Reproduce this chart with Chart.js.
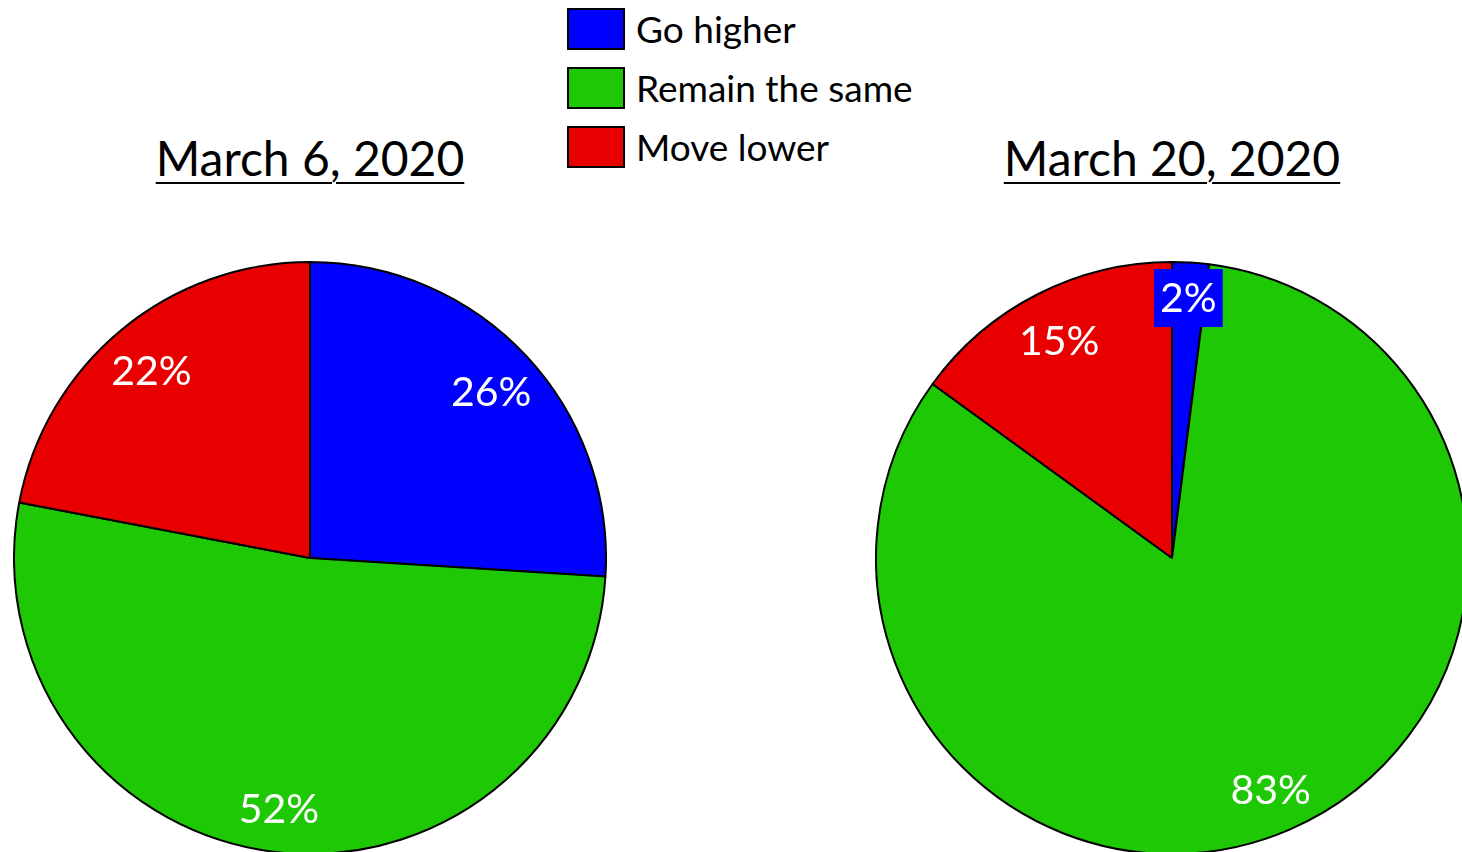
<!DOCTYPE html>
<html>
<head>
<meta charset="utf-8">
<script src="https://cdn.jsdelivr.net/npm/chart.js@4/dist/chart.umd.min.js"></script>
<style>
    html, body { margin: 0; padding: 0; background: #fff; overflow: hidden; width: 1462px; height: 852px; }
    body { position: relative; font-family: Lato, "Open Sans", sans-serif; }
    .title { position: absolute; top: 129px; font-size: 48px; text-decoration: underline; text-decoration-thickness: 2px; text-underline-offset: 6px; transform: translateX(-50%); white-space: nowrap; color: #000; }
    #legend { position: absolute; left: 567px; top: -1px; }
    .legend-row { display: flex; align-items: center; height: 59px; }
    .legend-box { width: 58px; height: 42px; border: 2px solid #000; box-sizing: border-box; margin-right: 11px; }
    .legend-text { font-size: 37px; color: #000; white-space: nowrap; }
    canvas { position: absolute; }
</style>
</head>
<body>
<div class="title" style="left:310px">March 6, 2020</div>
<div class="title" style="left:1172px">March 20, 2020</div>
<div id="legend"></div>
<canvas id="pie-Chart-March6" width="594" height="594" style="left:13px; top:261px"></canvas>
<canvas id="pie-Chart-March20" width="594" height="594" style="left:875px; top:261px"></canvas>
<script>
// Categories and colours
const categories = ['Go higher', 'Remain the same', 'Move lower'];
const sliceColors = ['#0000ff', '#1ec805', '#e80000'];

// Survey shares (percent)
const march6Values = [26, 52, 22];
const march20Values = [2, 83, 15];

document.addEventListener('DOMContentLoaded', function () {
    // Build the legend from the categories
    const legend = document.getElementById('legend');
    categories.forEach(function (name, i) {
        const row = document.createElement('div');
        row.className = 'legend-row';
        const box = document.createElement('div');
        box.className = 'legend-box';
        box.style.background = sliceColors[i];
        const text = document.createElement('div');
        text.className = 'legend-text';
        text.textContent = name;
        row.appendChild(box);
        row.appendChild(text);
        legend.appendChild(row);
    });

    // Plugin that writes the percentage inside each slice
    const sliceLabels = {
        id: 'sliceLabels',
        afterDatasetsDraw: function (chart) {
            const ctx = chart.ctx;
            const meta = chart.getDatasetMeta(0);
            const values = chart.data.datasets[0].data;
            ctx.save();
            ctx.font = '41px Lato, "Open Sans", sans-serif';
            ctx.textAlign = 'center';
            ctx.textBaseline = 'middle';
            meta.data.forEach(function (arc, i) {
                const mid = (arc.startAngle + arc.endAngle) / 2;
                const small = values[i] < 5;
                const r = arc.outerRadius * (small ? 0.88 : 0.84);
                const x = arc.x + Math.cos(mid) * r;
                const y = arc.y + Math.sin(mid) * r + (small ? 0 : 4);
                const label = values[i] + '%';
                if (small) {
                    // tiny slice: label sits on a box of the slice colour
                    const w = ctx.measureText(label).width + 12;
                    ctx.fillStyle = sliceColors[i];
                    ctx.fillRect(x - w / 2, y - 29, w, 58);
                }
                ctx.fillStyle = '#fff';
                ctx.fillText(label, x, y + 1);
            });
            ctx.restore();
        }
    };

    function createPieChart(canvasId, values) {
        const ctx = document.getElementById(canvasId).getContext('2d');
        new Chart(ctx, {
            type: 'pie',
            data: {
                labels: categories,
                datasets: [{
                    data: values,
                    backgroundColor: sliceColors,
                    borderColor: '#000',
                    borderWidth: 2
                }]
            },
            options: {
                responsive: false,
                animation: false,
                layout: { padding: 0 },
                plugins: {
                    legend: { display: false },
                    tooltip: { enabled: false }
                }
            },
            plugins: [sliceLabels]
        });
    }

    createPieChart('pie-Chart-March6', march6Values);
    createPieChart('pie-Chart-March20', march20Values);
});
</script>
</body>
</html>
